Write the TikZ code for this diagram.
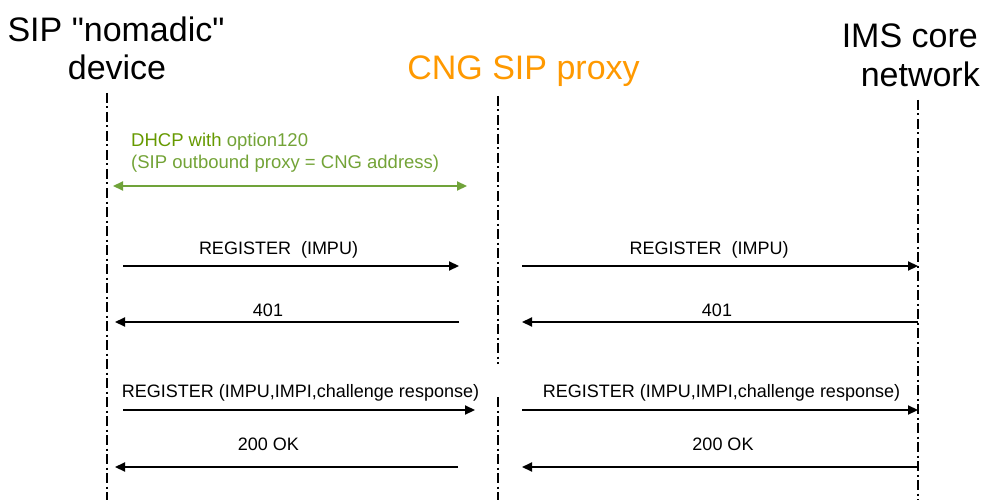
\documentclass[tikz,border=0pt]{standalone}
\usepackage{fontspec}
\setmainfont{Liberation Sans}[Ligatures=TeXOff]
\usetikzlibrary{arrows.meta}
\definecolor{cngorange}{RGB}{255,153,0}
\definecolor{dhcpdark}{RGB}{102,153,0}
\definecolor{dhcplight}{RGB}{115,163,55}
\definecolor{dhcparrow}{RGB}{112,163,58}
\begin{document}
\begin{tikzpicture}[x=1pt,y=-1pt,
  lifeline/.style={line width=2pt, dash pattern=on 10pt off 3.5pt on 2pt off 3.5pt},
  msg/.style={line width=2.2pt, -{Triangle[length=10pt,width=9pt]}},
  dhcpmsg/.style={line width=2.2pt, dhcparrow, {Triangle[length=10pt,width=9pt]}-{Triangle[length=10pt,width=9pt]}},
  head/.style={inner sep=0pt, anchor=base, font=\fontsize{34}{38}\selectfont},
  lbl/.style={inner sep=0pt, anchor=base, font=\fontsize{18}{21}\selectfont},
  dhcptext/.style={inner sep=0pt, anchor=base west, font=\fontsize{18.5}{21}\selectfont}]
\useasboundingbox (0,0) rectangle (983,500);

% participants
\node[head] (dev1) at (116,42) {SIP "nomadic"};
\node[head] (dev2) at (117,80) {device};
\node[head, text=cngorange] (cng) at (523.5,80) {CNG SIP proxy};
\node[head, anchor=base east] (ims1) at (978,48) {IMS core};
\node[head, anchor=base east] (ims2) at (980,87) {network};

% lifelines
\coordinate (devtop) at (107,93);
\coordinate (devbot) at (107,500);
\coordinate (cngtop) at (498,96);
\coordinate (cngbrk1) at (498,364);
\coordinate (cngbrk2) at (498,397);
\coordinate (cngbot) at (498,500);
\coordinate (imstop) at (918,100);
\coordinate (imsbot) at (918,500);
\draw[lifeline] (devtop) -- (devbot);
\draw[lifeline] (cngtop) -- (cngbrk1);
\draw[lifeline] (cngbrk2) -- (cngbot);
\draw[lifeline] (imstop) -- (imsbot);

% DHCP exchange
\node[dhcptext, text=dhcpdark] (dhcp1) at (131,147) {DHCP with \textcolor{dhcplight}{option120}};
\node[dhcptext, text=dhcplight] (dhcp2) at (131,168) {(SIP outbound proxy = CNG address)};
\coordinate (dhcpa) at (113,186);
\coordinate (dhcpb) at (467,186);
\draw[dhcpmsg] (dhcpa) -- (dhcpb);

% message end points
\coordinate (m1a) at (123,266);  \coordinate (m1b) at (459,266);
\coordinate (m2a) at (459,322);  \coordinate (m2b) at (115,322);
\coordinate (m3a) at (123,410);  \coordinate (m3b) at (475,410);
\coordinate (m4a) at (458,467);  \coordinate (m4b) at (115,467);
\coordinate (n1a) at (522,266);  \coordinate (n1b) at (918,266);
\coordinate (n2a) at (918,322);  \coordinate (n2b) at (522,322);
\coordinate (n3a) at (522,410);  \coordinate (n3b) at (918,410);
\coordinate (n4a) at (918,467);  \coordinate (n4b) at (522,467);

% device <-> proxy
\draw[msg] (m1a) -- (m1b);
\node[lbl] (l1) at (278.5,254.5) {REGISTER\ \ (IMPU)};
\draw[msg] (m2a) -- (m2b);
\node[lbl] (l2) at (268,316.5) {401};
\draw[msg] (m3a) -- (m3b);
\node[lbl] (l3) at (300.5,397.5) {REGISTER (IMPU,IMPI,challenge response)};
\draw[msg] (m4a) -- (m4b);
\node[lbl] (l4) at (268.5,450.5) {200 OK};

% proxy <-> core network
\draw[msg] (n1a) -- (n1b);
\node[lbl] (r1) at (709,254.5) {REGISTER\ \ (IMPU)};
\draw[msg] (n2a) -- (n2b);
\node[lbl] (r2) at (717,316.5) {401};
\draw[msg] (n3a) -- (n3b);
\node[lbl] (r3) at (721.5,397.5) {REGISTER (IMPU,IMPI,challenge response)};
\draw[msg] (n4a) -- (n4b);
\node[lbl] (r4) at (723,450.5) {200 OK};
\end{tikzpicture}
\end{document}
